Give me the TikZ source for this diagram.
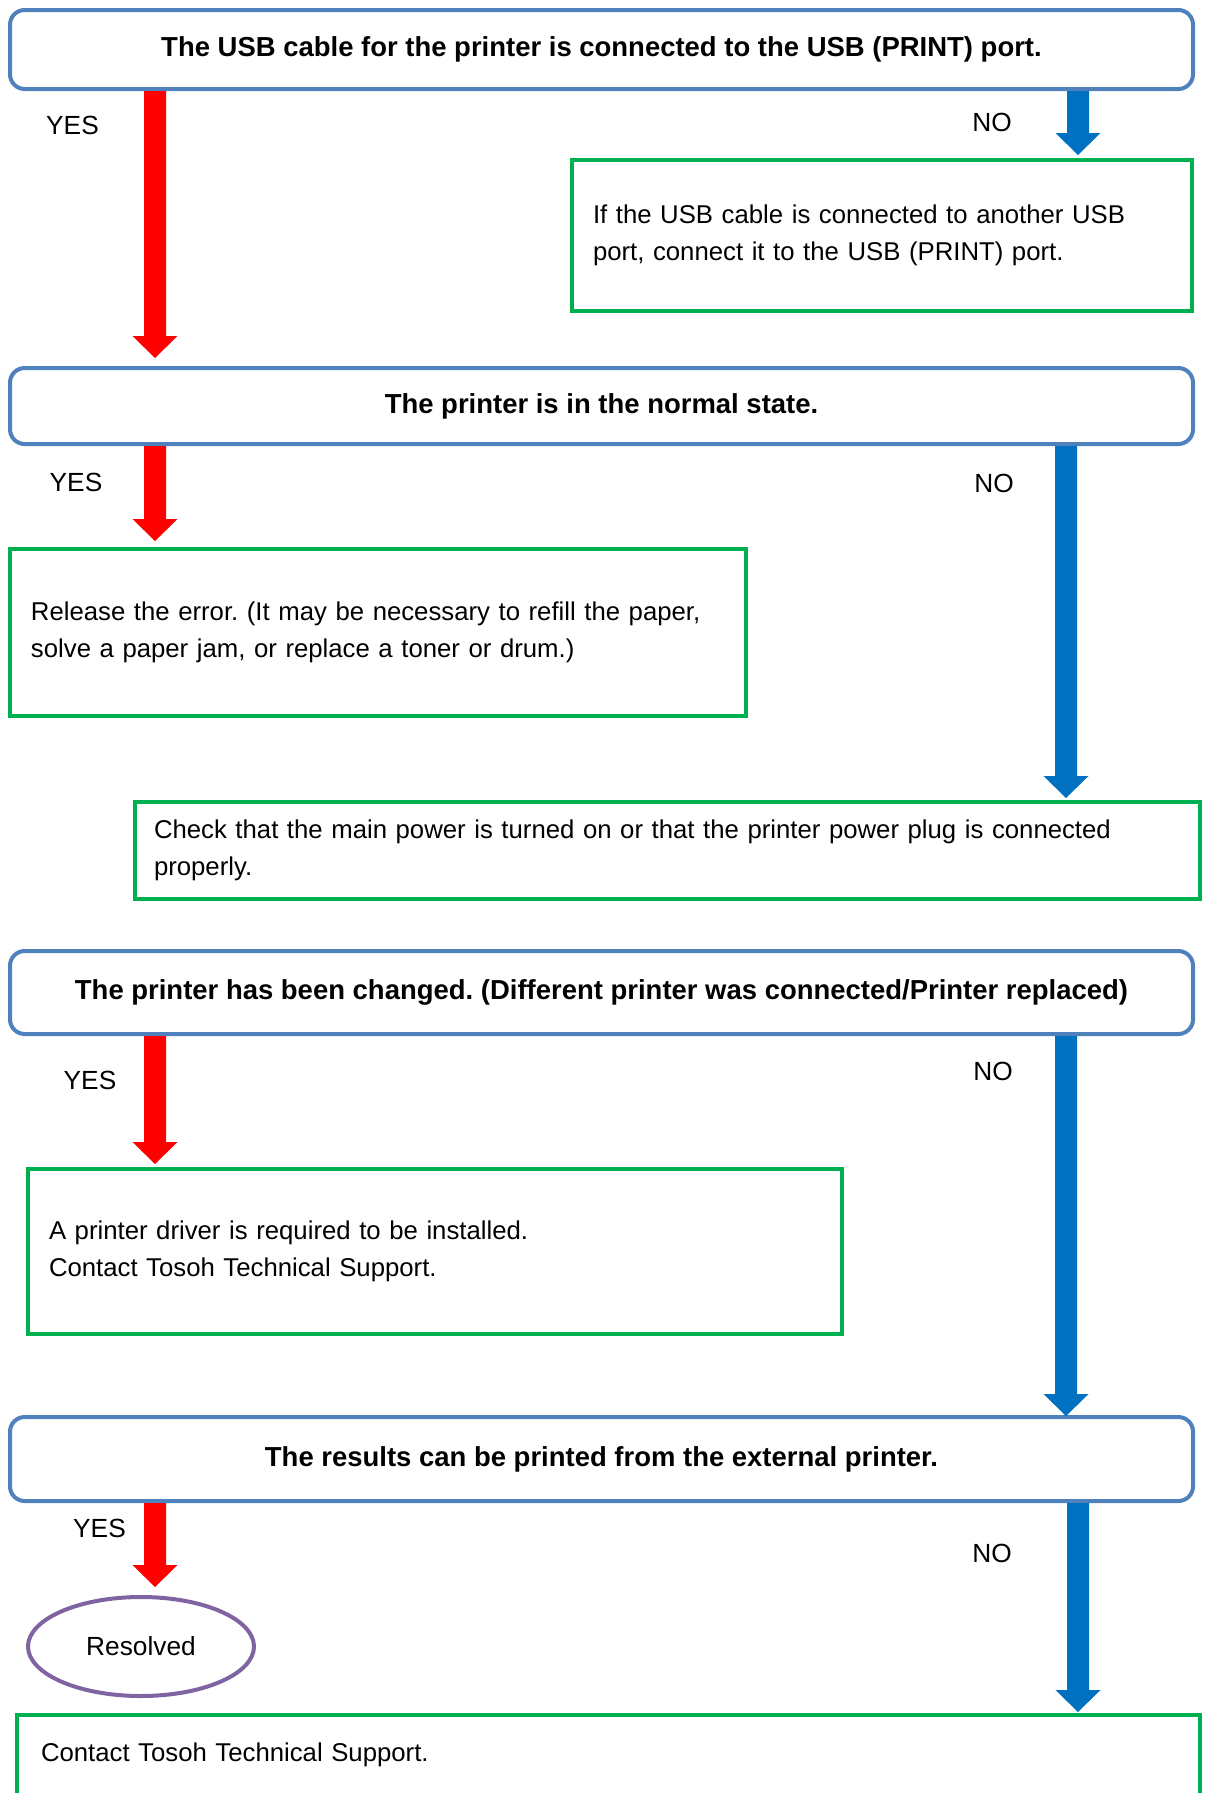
\documentclass[tikz,border=0pt]{standalone}
\usepackage{fontspec}
\setmainfont{Liberation Sans}
\usetikzlibrary{calc,shapes.geometric}
\frenchspacing
\definecolor{boxblue}{HTML}{4F81BD}
\definecolor{boxgreen}{HTML}{00B050}
\definecolor{arrred}{HTML}{FF0000}
\definecolor{arrblue}{HTML}{0070C0}
\definecolor{respurple}{HTML}{8064A2}
% #1 colour, #2 source node, #3 tip coordinate
\newcommand{\blockarrow}[3]{%
  \path (#2.south -| #3) coordinate (tmpS);
  \fill[#1] ($(tmpS)+(-11,2)$) -- ($(#3)+(-11,-22)$) -- ($(#3)+(-22.5,-22)$) -- (#3)
    -- ($(#3)+(22.5,-22)$) -- ($(#3)+(11,-22)$) -- ($(tmpS)+(11,2)$) -- cycle;}
\begin{document}
\begin{tikzpicture}[x=0.75pt,y=-0.75pt,
  dbox/.style={draw=boxblue, line width=3pt, rounded corners=11pt, fill=white,
    minimum width=887.25pt, outer sep=0pt, inner sep=0pt, anchor=north west,
    font=\bfseries\fontsize{20.6}{24}\selectfont},
  gbox/.style={draw=boxgreen, line width=3pt, fill=white, outer sep=0pt,
    inner ysep=0pt, anchor=north west, align=left,
    font=\fontsize{19.3}{27.5}\selectfont},
  lbl/.style={inner sep=0pt, font=\fontsize{19.7}{24}\selectfont}]
\fill[white] (0,0) rectangle (1204,1793);
\useasboundingbox (0,0) rectangle (1204,1793);

% decision boxes
\node[dbox, minimum height=59.25pt] (b1) at (10,10) {The USB cable for the printer is connected to the USB (PRINT) port.};
\node[dbox, minimum height=57pt] (b2) at (10,368) {The printer is in the normal state.};
\node[dbox, minimum height=62.25pt] (b3) at (10,951) {The printer has been changed. (Different printer was connected/Printer replaced)};
\node[dbox, minimum height=63pt] (b4) at (10,1417) {The results can be printed from the external printer.};

% action boxes
\node[gbox, inner xsep=15.75pt, text width=433.5pt, minimum height=113.25pt] (g1) at (572,160)
  {If the USB cable is connected to another USB\\port, connect it to the USB (PRINT) port.};
\node[gbox, inner xsep=15.75pt, text width=520.5pt, minimum height=125.25pt] (g2) at (10,549)
  {Release the error. (It may be necessary to refill the paper,\\solve a paper jam, or replace a toner or drum.)};
\node[gbox, inner xsep=14.25pt, text width=770.25pt, minimum height=72.75pt] (g3) at (135,802)
  {Check that the main power is turned on or that the printer power plug is connected\\properly.};
\node[gbox, inner xsep=15.75pt, text width=579pt, minimum height=123.75pt] (g4) at (28,1169)
  {A printer driver is required to be installed.\\Contact Tosoh Technical Support.};
\node[gbox, inner xsep=18pt, text width=851.25pt, text height=34.5pt, text depth=75pt] (g5) at (17,1715)
  {Contact Tosoh Technical Support.};

% resolved
\node[ellipse, draw=respurple, line width=3pt, fill=white, minimum width=169.5pt,
  minimum height=74.25pt, inner sep=0pt, outer sep=0pt,
  font=\fontsize{19.7}{24}\selectfont] (res) at (141,1646.5) {Resolved};

% arrow tips
\coordinate (r1t) at (155,358);
\coordinate (r2t) at (155,541);
\coordinate (r3t) at (155,1164);
\coordinate (r4t) at (155,1587);
\coordinate (n1t) at (1078,155);
\coordinate (n2t) at (1066,798);
\coordinate (n3t) at (1066,1416);
\coordinate (n4t) at (1078,1712);

\blockarrow{arrred}{b1}{r1t}
\blockarrow{arrred}{b2}{r2t}
\blockarrow{arrred}{b3}{r3t}
\blockarrow{arrred}{b4}{r4t}
\blockarrow{arrblue}{b1}{n1t}
\blockarrow{arrblue}{b2}{n2t}
\blockarrow{arrblue}{b3}{n3t}
\blockarrow{arrblue}{b4}{n4t}

% labels
\node[lbl] (y1) at (72.5,125) {YES};
\node[lbl] (y2) at (76,482) {YES};
\node[lbl] (y3) at (90,1080) {YES};
\node[lbl] (y4) at (99.5,1528) {YES};
\node[lbl] (no1) at (992,122) {NO};
\node[lbl] (no2) at (994,483) {NO};
\node[lbl] (no3) at (993,1071) {NO};
\node[lbl] (no4) at (992,1553) {NO};
\end{tikzpicture}
\end{document}
